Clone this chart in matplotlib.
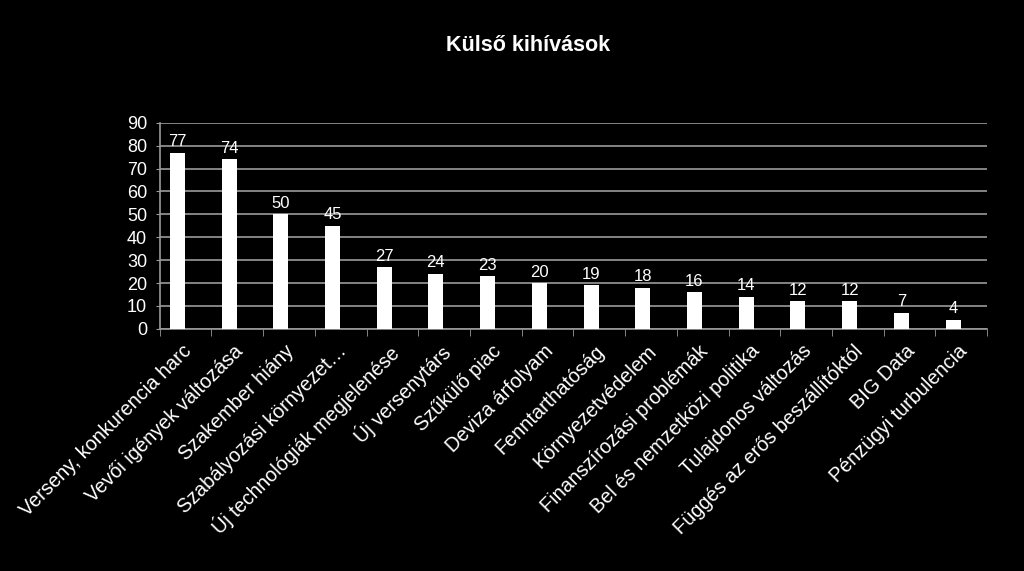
import matplotlib.pyplot as plt
import numpy as np

kategoriak = [
    "Verseny, konkurencia harc",
    "Vevői igények változása",
    "Szakember hiány",
    "Szabályozási környezet…",
    "Új technológiák megjelenése",
    "Új versenytárs",
    "Szűkülő piac",
    "Deviza árfolyam",
    "Fenntarthatóság",
    "Környezetvédelem",
    "Finanszírozási problémák",
    "Bel és nemzetközi politika",
    "Tulajdonos változás",
    "Függés az erős beszállítóktól",
    "BIG Data",
    "Pénzügyi turbulencia",
]
ertekek = [77, 74, 50, 45, 27, 24, 23, 20, 19, 18, 16, 14, 12, 12, 7, 4]
y_ticks = list(range(0, 91, 10))

plt.rcParams['font.family'] = ['Liberation Sans', 'DejaVu Sans']

fig = plt.figure(figsize=(10.24, 5.71), dpi=100, facecolor='black')
ax = fig.add_axes([0.156, 0.424, 0.808, 0.361], facecolor='black')

x = np.arange(len(kategoriak))
# oszlopok kicsit balra tolva, mint az eredetin
xb = x - 0.16
ax.bar(xb, ertekek, width=0.29, color='white', zorder=3)

for xi, v in zip(xb, ertekek):
    ax.text(xi, v + 1.5, str(v), ha='center', va='bottom', color='white', fontsize=12)

ax.set_xlim(-0.5, len(kategoriak) - 0.5)
ax.set_ylim(0, 90)
ax.set_yticks(y_ticks)
ax.yaxis.grid(True, color='#9a9a9a', linewidth=1.2, zorder=0)
ax.tick_params(axis='y', colors='white', labelsize=13, length=3, color='#9a9a9a', pad=6)

ax.set_xticks(x - 0.08)
ax.set_xticklabels(kategoriak, rotation=45, ha='right', rotation_mode='anchor',
                   color='white', fontsize=14.3)
ax.tick_params(axis='x', length=0, pad=9)
ax.set_xticks(np.arange(-0.5, len(kategoriak)), minor=True)
ax.tick_params(axis='x', which='minor', length=5, color='#9a9a9a', direction='out')

for s in ['top', 'right']:
    ax.spines[s].set_visible(False)
for s in ['left', 'bottom']:
    ax.spines[s].set_color('#9a9a9a')
    ax.spines[s].set_linewidth(1.2)

fig.text(0.516, 0.921, "Külső kihívások", ha='center', va='center',
         color='white', fontsize=15.5, fontweight='bold')

fig.savefig("out.png", facecolor='black')
